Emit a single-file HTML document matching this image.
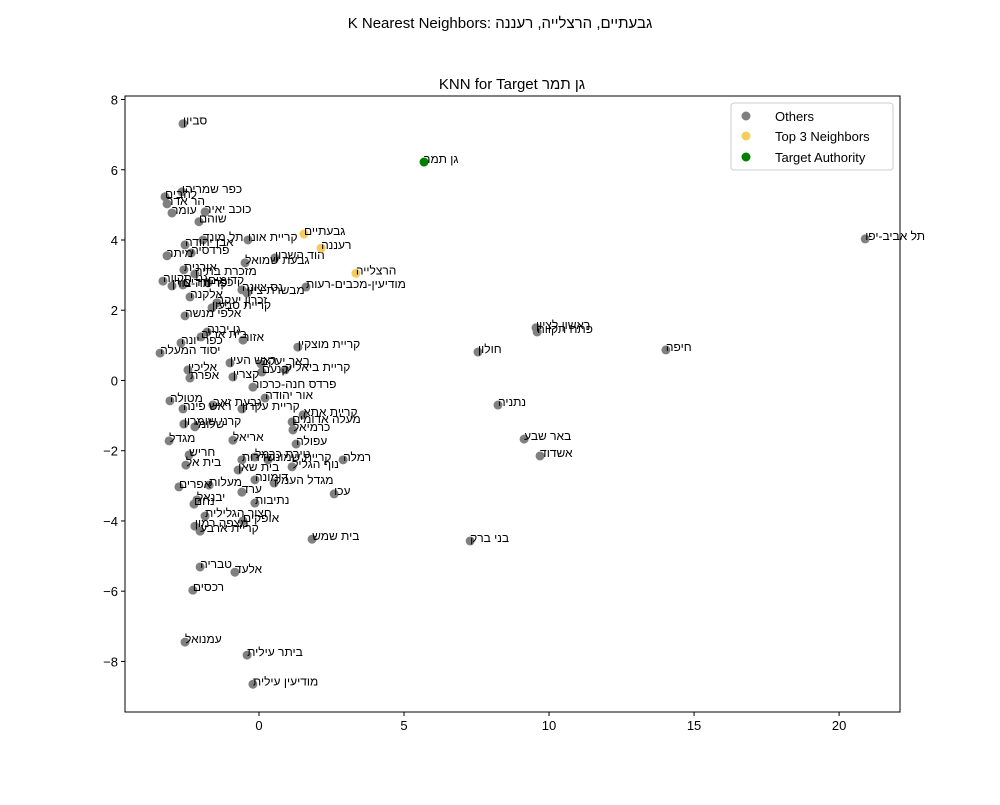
<!DOCTYPE html>
<html><head><meta charset="utf-8"><style>
body{margin:0;background:#fff;}
svg text{font-family:"Liberation Sans","DejaVu Sans",sans-serif;}
</style></head><body>
<svg id="chart" width="1000" height="800" viewBox="0 0 1000 800" xmlns="http://www.w3.org/2000/svg">
<rect width="1000" height="800" fill="#fff"/>
<text x="500" y="28" text-anchor="middle" font-size="15" direction="ltr">K Nearest Neighbors: גבעתיים, הרצלייה, רעננה</text>
<text x="512" y="89" text-anchor="middle" font-size="15" direction="ltr">KNN for Target גן תמר</text>
<g id="plot"></g>
<rect x="125" y="96" width="775" height="616" fill="none" stroke="#000" stroke-width="1"/>
<g id="legend">
<rect x="731" y="103" width="162" height="67" rx="3" fill="#fff" fill-opacity="0.8" stroke="#ccc"/>
<g><circle cx="746" cy="116" r="4.5" fill="#808080"/><text x="775" y="121" font-size="13">Others</text></g>
<g><circle cx="746" cy="136" r="4.5" fill="#f4cd5e"/><text x="775" y="141" font-size="13">Top 3 Neighbors</text></g>
<g><circle cx="746" cy="157" r="4.5" fill="#008000"/><text x="775" y="162" font-size="13">Target Authority</text></g>
</g>
</svg>
<script>
const otherNames=["סביון","להבים","כפר שמריהו","הר אדר","עומר","כוכב יאיר","שוהם","קריית אונו","אבן יהודה","תל מונד","מיתר","פרדסיה","הוד השרון","גבעת שמואל","אורנית","מזכרת בתיה","גני תקווה","קדימה-צורן","כפר ורדים","קדומים","נס ציונה","מבשרת ציון","אלקנה","זכרון יעקב","קריית טבעון","אלפי מנשה","גן יבנה","בית אריה","כפר יונה","יסוד המעלה","אזור","קריית מוצקין","ראש העין","באר יעקב","אליכין","אפרת","קצרין","קריית ביאליק","יקנעם","פרדס חנה-כרכור","אור יהודה","מטולה","ראש פינה","קריית עקרון","גבעת זאב","קריית אתא","מעלה אדומים","קרני שומרון","שלומי","כרמיאל","מגדל","אריאל","עפולה","חריש","בית אל","שדרות","טירת כרמל","קריית שמונה","בית שאן","נוף הגליל","רמלה","דימונה","מגדל העמק","עכו","ערד","אפרים","מעלות","יבנאל","נחם","נתיבות","חצור הגלילית","אופקים","מצפה רמון","קריית ארבע","בית שמש","טבריה","אלעד","רכסים","עמנואל","ביתר עילית","מודיעין עילית","ראשון לציון","פתח תקווה","חולון","חיפה","תל אביב-יפו","נתניה","באר שבע","אשדוד","בני ברק","מודיעין-מכבים-רעות"];
const otherX=[-2.62,-3.24,-2.66,-3.17,-3.00,-1.86,-2.07,-0.38,-2.55,-1.93,-3.17,-2.34,0.55,-0.48,-2.59,-2.21,-3.31,-3.00,-2.62,-1.76,-0.59,-0.41,-2.38,-1.45,-1.62,-2.55,-1.79,-2.00,-2.69,-3.41,-0.55,1.34,-1.00,0.07,-2.45,-2.38,-0.90,0.90,0.10,-0.21,0.21,-3.07,-2.62,-0.59,-1.59,1.52,1.14,-2.59,-2.21,1.17,-3.10,-0.90,1.28,-2.41,-2.52,-0.59,-0.14,0.31,-0.72,1.14,2.90,-0.14,0.52,2.59,-0.59,-2.76,-1.72,-2.14,-2.24,-0.14,-1.86,-0.55,-2.21,-2.03,1.83,-2.03,-0.83,-2.28,-2.55,-0.41,-0.21,9.55,9.59,7.55,14.03,20.90,8.24,9.14,9.69,7.28,1.62];
const otherY=[7.31,5.23,5.37,5.03,4.77,4.80,4.52,4.00,3.86,4.00,3.55,3.63,3.49,3.35,3.15,3.03,2.83,2.69,2.72,2.78,2.58,2.49,2.38,2.21,2.07,1.84,1.38,1.24,1.07,0.78,1.15,0.95,0.50,0.47,0.30,0.07,0.10,0.30,0.24,-0.19,-0.50,-0.58,-0.81,-0.81,-0.70,-0.98,-1.18,-1.24,-1.32,-1.41,-1.72,-1.70,-1.81,-2.12,-2.41,-2.26,-2.18,-2.26,-2.55,-2.46,-2.26,-2.83,-2.92,-3.23,-3.18,-3.03,-2.98,-3.40,-3.52,-3.49,-3.86,-4.00,-4.15,-4.29,-4.52,-5.31,-5.46,-5.97,-7.45,-7.82,-8.65,1.50,1.38,0.81,0.87,4.03,-0.70,-1.67,-2.15,-4.57,2.66];
const topNames=["גבעתיים","רעננה","הרצלייה"];
const topX=[1.55,2.14,3.34];
const topY=[4.17,3.77,3.05];
const targetNames=["גן תמר"];
const targetX=[5.69];
const targetY=[6.22];
const xTicks=[0,5,10,15,20];
const yTicks=[-8,-6,-4,-2,0,2,4,6,8];

const X0=125,X1=900,Y0=96,Y1=712;
const xMin=-4.62,xMax=22.1,yMin=-9.44,yMax=8.1;
function sx(v){return X0+(v-xMin)/(xMax-xMin)*(X1-X0);}
function sy(v){return Y1-(v-yMin)/(yMax-yMin)*(Y1-Y0);}
const NS="http://www.w3.org/2000/svg";
const plot=document.getElementById('plot');
function mk(tag,attrs,parent){const e=document.createElementNS(NS,tag);for(const k in attrs)e.setAttribute(k,attrs[k]);(parent||plot).appendChild(e);return e;}

xTicks.forEach(t=>{
  const g=mk('g',{});
  
  
  mk('line',{x1:sx(t),x2:sx(t),y1:Y1,y2:Y1+4,stroke:'#000'},g);
  const tx=mk('text',{x:sx(t),y:Y1+18,'text-anchor':'middle','font-size':13},g);
  tx.textContent=t;
});
yTicks.forEach(t=>{
  const g=mk('g',{});
  
  
  mk('line',{x1:X0-4,x2:X0,y1:sy(t),y2:sy(t),stroke:'#000'},g);
  const tx=mk('text',{x:X0-7,y:sy(t)+5,'text-anchor':'end','font-size':13},g);
  tx.textContent=t<0?'\u2212'+(-t):t;
});

function series(names,xs,ys,color,nm){
  for(let i=0;i<xs.length;i++){
    const c=mk('circle',{cx:sx(xs[i]),cy:sy(ys[i]),r:4.5,fill:color});
    
    
  }
  for(let i=0;i<xs.length;i++){
    const t=mk('text',{x:sx(xs[i]),y:sy(ys[i])+1,'font-size':12,direction:'ltr'});
    
    
    t.textContent=names[i];
  }
}
series(otherNames,otherX,otherY,'#808080','other');
series(topNames,topX,topY,'#f4cd5e','top-neighbor');
series(targetNames,targetX,targetY,'#008000','target');
</script>
</body></html>
